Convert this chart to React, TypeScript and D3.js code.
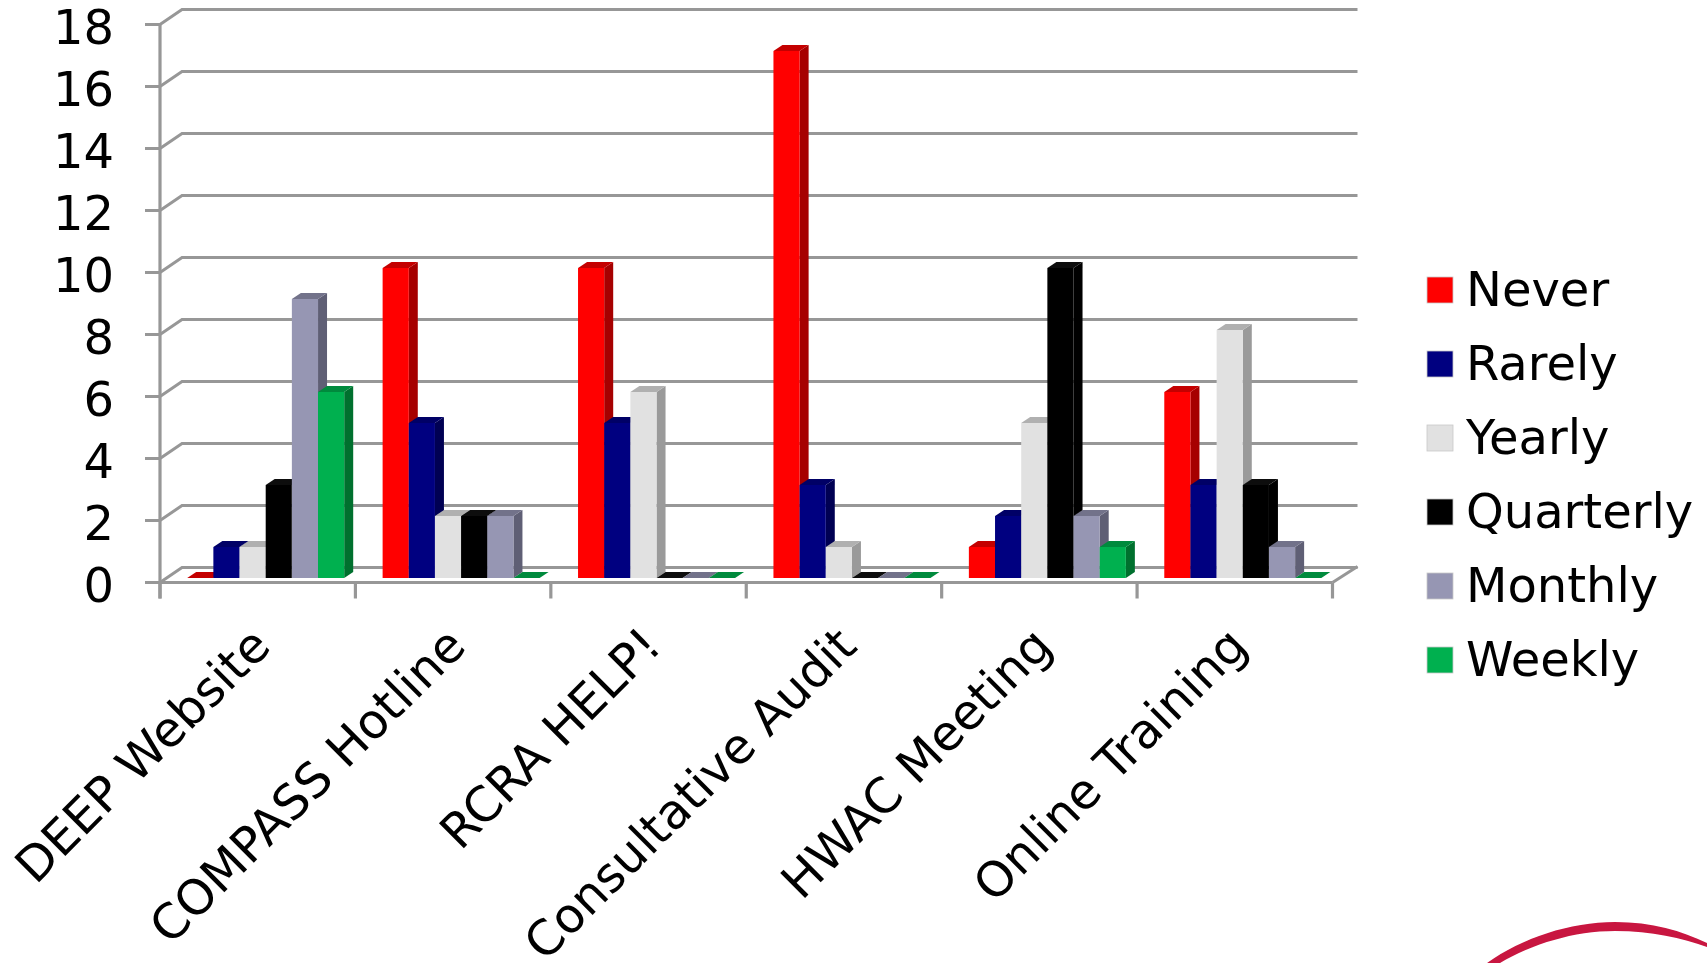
import React from "react";
import * as d3 from "d3";

const categories = ["DEEP Website", "COMPASS Hotline", "RCRA HELP!", "Consultative Audit", "HWAC Meeting", "Online Training"];
const seriesNames = ["Never", "Rarely", "Yearly", "Quarterly", "Monthly", "Weekly"];
const never = [0, 10, 10, 17, 1, 6];
const rarely = [1, 5, 5, 3, 2, 3];
const yearly = [1, 2, 6, 1, 5, 8];
const quarterly = [3, 2, 0, 0, 10, 3];
const monthly = [9, 2, 0, 0, 2, 1];
const weekly = [6, 0, 0, 0, 1, 0];
const seriesValues = [never, rarely, yearly, quarterly, monthly, weekly];
const frontColors = ["#ff0000", "#000080", "#e1e1e1", "#000000", "#9696b3", "#00b050"];
const sideColors = ["#a60000", "#000053", "#9a9a9a", "#000000", "#5f5f75", "#00702f"];
const topColors = ["#c40000", "#000066", "#b0b0b0", "#111111", "#72728a", "#008a3c"];
const yTicks = [0, 2, 4, 6, 8, 10, 12, 14, 16, 18];

const FONT = "'DejaVu Sans', Verdana, sans-serif";
const GRID = "#979797";
const W = 1707, H = 963;
const plot = { left: 160, right: 1332.5, y0: 582.5, y18: 24.5, wallDx: 22, wallDy: 15 };
const barDepth = { dx: 9, dy: 6 };
const barLift = 4.5;

export default function App() {
  const x0 = d3.scaleBand<string>().domain(categories).range([plot.left, plot.right]);
  const x1 = d3.scaleBand<string>().domain(seriesNames).range([27.2, 184.2]);
  const y = d3.scaleLinear().domain([0, 18]).range([plot.y0, plot.y18]);
  const barHeight = (v: number) => y(0) - y(v);
  const xEdges = [...categories.map((c) => x0(c) as number), plot.right];

  return (
    <svg width={W} height={H} viewBox={`0 0 ${W} ${H}`} style={{ position: "fixed", left: 0, top: 0, background: "#fff" }}>
      <defs>
        <filter id="soft" x="-5%" y="-5%" width="110%" height="110%">
          <feGaussianBlur stdDeviation="0.75" />
        </filter>
      </defs>
      <g filter="url(#soft)">
        {yTicks.map((t) => (
          <polyline
            key={t}
            fill="none"
            stroke={GRID}
            strokeWidth={3}
            points={`${plot.left - 15},${y(t)} ${plot.left},${y(t)} ${plot.left + plot.wallDx},${y(t) - plot.wallDy} ${plot.right + plot.wallDx + 3},${y(t) - plot.wallDy}`}
          />
        ))}
        <line x1={plot.left} x2={plot.left} y1={y(18)} y2={y(0) + 16} stroke={GRID} strokeWidth={3.2} />
        <line x1={plot.left} x2={plot.right} y1={y(0)} y2={y(0)} stroke={GRID} strokeWidth={3.2} />
        <line x1={plot.right} x2={plot.right + plot.wallDx + 3} y1={y(0)} y2={y(0) - plot.wallDy - 1} stroke={GRID} strokeWidth={3} />
        {xEdges.map((e) => (
          <line key={e} x1={e} x2={e} y1={y(0)} y2={y(0) + 16} stroke={GRID} strokeWidth={3.2} />
        ))}

        {categories.map((c, ci) => (
          <g key={c} transform={`translate(${x0(c)},${-barLift})`}>
            {seriesNames.map((s, si) => {
              const v = seriesValues[si][ci];
              const bx = x1(s) as number;
              const w = x1.bandwidth();
              const top = y(v);
              const { dx, dy } = barDepth;
              return (
                <g key={s}>
                  <path d={`M${bx + w},${top}L${bx + w + dx},${top - dy}L${bx + w + dx},${y(0) - dy}L${bx + w},${y(0)}Z`} fill={sideColors[si]} />
                  <path d={`M${bx},${top}L${bx + dx},${top - dy}L${bx + w + dx},${top - dy}L${bx + w},${top}Z`} fill={topColors[si]} />
                  {v > 0 && <rect x={bx} y={top} width={w} height={barHeight(v)} fill={frontColors[si]} />}
                </g>
              );
            })}
          </g>
        ))}

        {yTicks.map((t) => (
          <text key={t} x={114} y={y(t) + 2} dy="0.36em" textAnchor="end" fontFamily={FONT} fontSize={48} fill="#000">
            {t}
          </text>
        ))}

        {categories.map((c) => {
          const cx = (x0(c) as number) + x0.bandwidth() / 2 + 15;
          return (
            <text key={c} transform={`translate(${cx},${y(0) + 66}) rotate(-45)`} textAnchor="end" fontFamily={FONT} fontSize={48.3} fill="#000">
              {c}
            </text>
          );
        })}

        {seriesNames.map((s, i) => (
          <g key={s} transform={`translate(1427,${277 + i * 74})`}>
            <rect x={0} y={0} width={26} height={26} fill={frontColors[i]} stroke="#c9c9c9" strokeWidth={0.8} />
            <text x={39} y={29} fontFamily={FONT} fontSize={48} fill="#000">
              {s}
            </text>
          </g>
        ))}

        <path d="M1487,963 C1522,938 1570,922 1615,922 C1652,922 1682,931 1707,943 L1707,947 C1682,938 1652,931 1615,931 C1574,931 1532,944 1500,963 Z" fill="#c8143f" />
      </g>
    </svg>
  );
}
